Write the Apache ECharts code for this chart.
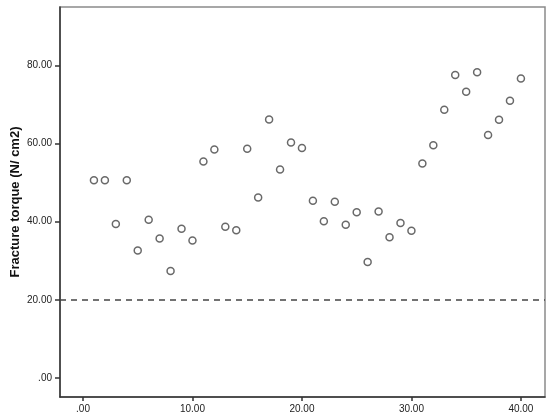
<!DOCTYPE html>
<html>
<head>
<meta charset="utf-8">
<script src="https://cdn.jsdelivr.net/npm/echarts@6/dist/echarts.min.js"></script>
<style>
  html, body { margin: 0; padding: 0; background: #fff; }
  #chart { width: 550px; height: 418px; }
</style>
</head>
<body>
<div id="chart"></div>
<script>
// sample number and measured torque
var sampleNo = [1, 2, 3, 4, 5, 6, 7, 8, 9, 10,
  11, 12, 13, 14, 15, 16, 17, 18, 19, 20,
  21, 22, 23, 24, 25, 26, 27, 28, 29, 30,
  31, 32, 33, 34, 35, 36, 37, 38, 39, 40];
var torque = [50.6, 50.6, 39.4, 50.6, 32.6, 40.5, 35.7, 27.4, 38.2, 35.2,
  55.4, 58.5, 38.7, 37.8, 58.7, 46.2, 66.2, 53.4, 60.3, 58.9,
  45.4, 40.1, 45.1, 39.2, 42.4, 29.7, 42.6, 36.0, 39.7, 37.7,
  54.9, 59.6, 68.7, 77.6, 73.3, 78.3, 62.2, 66.1, 71.0, 76.7];
var xTicks = [0, 10, 20, 30, 40];
var yTicks = [0, 20, 40, 60, 80];
var refLine = 20;

function fmt(v) {
  return v === 0 ? ".00" : v.toFixed(2);
}

var chart = echarts.init(document.getElementById("chart"));
chart.setOption({
  animation: false,
  grid: {
    left: 60,
    right: 5,
    top: 7,
    bottom: 21,
    outerBoundsMode: "none",
    containLabel: false,
    show: true,
    borderColor: "#8a8a8a",
    borderWidth: 1.5
  },
  xAxis: {
    type: "value",
    min: -2.1,
    max: 42.2,
    axisLine: { show: true, onZero: false, lineStyle: { color: "#333", width: 1.5 } },
    axisTick: { show: true, length: 4, customValues: xTicks, lineStyle: { color: "#333", width: 1.5 } },
    axisLabel: {
      customValues: xTicks,
      formatter: fmt,
      color: "#222",
      fontFamily: "Liberation Sans",
      fontSize: 10,
      margin: 7
    },
    splitLine: { show: false }
  },
  yAxis: {
    type: "value",
    min: -4.9,
    max: 95,
    name: "Fracture torque (N/ cm2)",
    nameLocation: "middle",
    nameGap: 38,
    nameMoveOverlap: false,
    nameTextStyle: {
      color: "#111",
      fontFamily: "Liberation Sans",
      fontWeight: "bold",
      fontSize: 13
    },
    axisLine: { show: true, onZero: false, lineStyle: { color: "#333", width: 1.5 } },
    axisTick: { show: true, length: 5, customValues: yTicks, lineStyle: { color: "#333", width: 1.5 } },
    axisLabel: {
      customValues: yTicks,
      formatter: fmt,
      color: "#222",
      fontFamily: "Liberation Sans",
      fontSize: 10,
      margin: 8
    },
    splitLine: { show: false }
  },
  series: [
    {
      type: "scatter",
      symbol: "circle",
      symbolSize: 7,
      itemStyle: {
        color: "#fff",
        borderColor: "#444",
        borderWidth: 1.5
      },
      data: sampleNo.map(function (x, i) { return [x, torque[i]]; }),
      markLine: {
        silent: true,
        symbol: "none",
        label: { show: false },
        lineStyle: { color: "#444", type: [6, 5], width: 1.5 },
        data: [{ yAxis: refLine }]
      }
    }
  ]
});
</script>
</body>
</html>
